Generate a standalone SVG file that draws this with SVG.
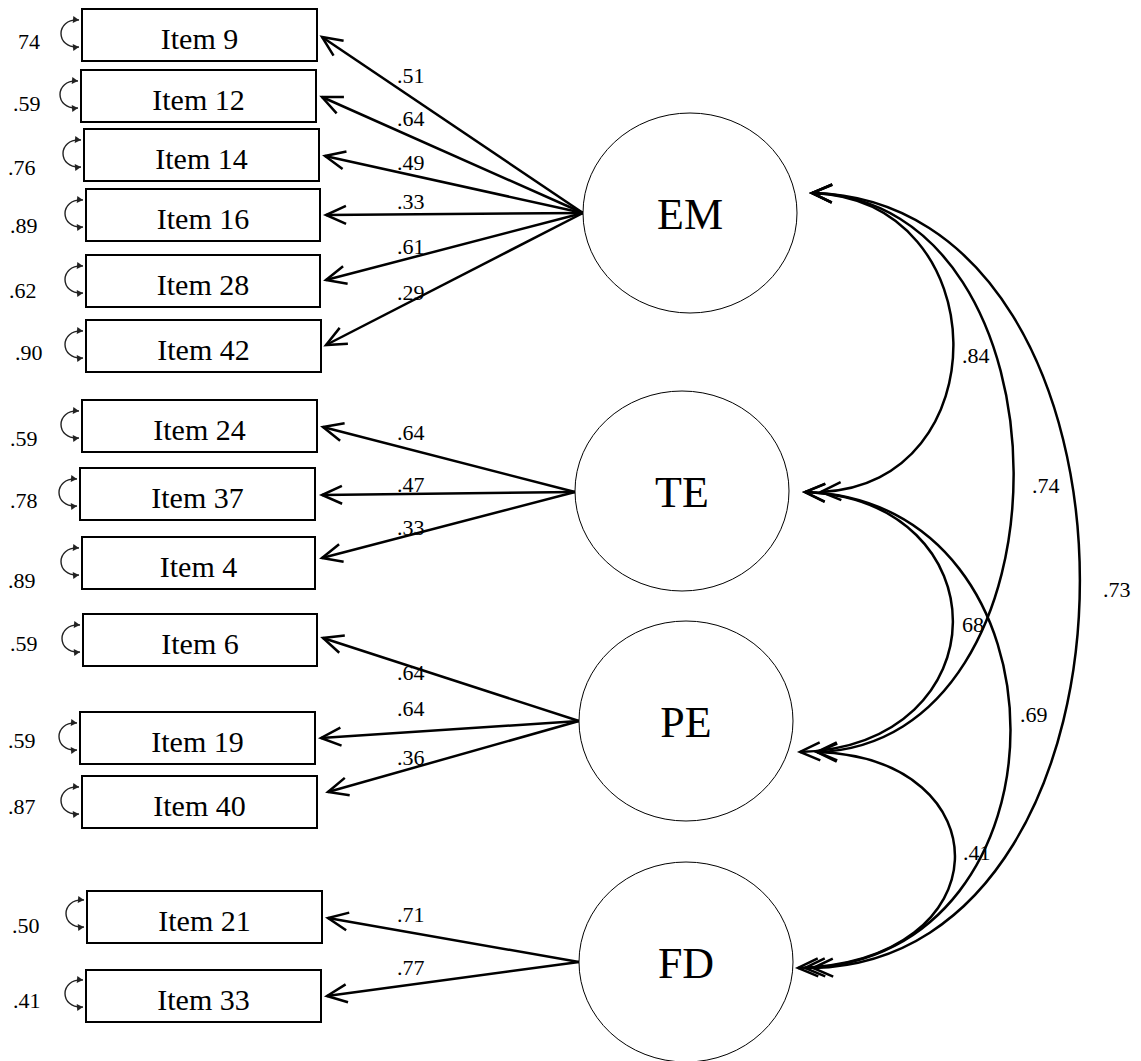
<svg xmlns="http://www.w3.org/2000/svg" width="1141" height="1061" viewBox="0 0 1141 1061" font-family="'Liberation Serif', 'Times New Roman', serif">
<style>
.box{fill:#fff;stroke:#000;stroke-width:2}
.lat{fill:#fff;stroke:#000;stroke-width:1}
.it{font-family:'Liberation Serif','Times New Roman',serif;font-size:30px;text-anchor:middle;fill:#000}
.lt{font-family:'Liberation Serif','Times New Roman',serif;font-size:44px;text-anchor:middle;fill:#000}
.n{font-family:'Liberation Serif','Times New Roman',serif;font-size:22px;fill:#000}
.ld{fill:none;stroke:#000;stroke-width:2.5;marker-end:url(#ah)}
.cv{fill:none;stroke:#000;stroke-width:2.5;marker-start:url(#ah);marker-end:url(#ah)}
.er{fill:none;stroke:#222;stroke-width:1.4;marker-start:url(#sm);marker-end:url(#sm)}
</style>
<defs>
<marker id="ah" markerUnits="userSpaceOnUse" orient="auto-start-reverse" overflow="visible" markerWidth="1" markerHeight="1" refX="0" refY="0">
<path d="M -20,-9 L 0,0 L -20,9" fill="none" stroke="#000" stroke-width="2.5"/>
</marker>
<marker id="sm" markerUnits="userSpaceOnUse" orient="auto-start-reverse" overflow="visible" markerWidth="1" markerHeight="1" refX="0" refY="0">
<path d="M -6,-3.5 L 0,0 L -6,3.5 z" fill="#222" stroke="none"/>
</marker>
<path id="err" d="M 0,0 C -24,-2 -24,29 0,27"/>
</defs>
<g id="connectors">
<line class="ld" x1="583" y1="213" x2="322" y2="37"/>
<line class="ld" x1="583" y1="213" x2="322" y2="97"/>
<line class="ld" x1="583" y1="213" x2="325" y2="156"/>
<line class="ld" x1="583" y1="213" x2="326" y2="215"/>
<line class="ld" x1="583" y1="213" x2="326" y2="280"/>
<line class="ld" x1="583" y1="213" x2="326" y2="345"/>
<line class="ld" x1="575" y1="492" x2="323" y2="427"/>
<line class="ld" x1="575" y1="492" x2="322" y2="495"/>
<line class="ld" x1="575" y1="492" x2="322" y2="558"/>
<line class="ld" x1="579" y1="721" x2="323" y2="638"/>
<line class="ld" x1="579" y1="721" x2="321" y2="738"/>
<line class="ld" x1="579" y1="721" x2="328" y2="792"/>
<line class="ld" x1="579" y1="962" x2="328" y2="918"/>
<line class="ld" x1="579" y1="962" x2="327" y2="996"/>
<path class="cv" d="M 812,193 C 999,200 999,485 821,492"/>
<path class="cv" d="M 812,193 C 1080,200 1080,745 817,752"/>
<path class="cv" d="M 812,193 C 1169,200 1169,960 813,968"/>
<path class="cv" d="M 805,492 C 1003,500 1003,745 800,752"/>
<path class="cv" d="M 805,492 C 1079,500 1079,960 805,968"/>
<path class="cv" d="M 817,752 C 1004,758 1004,962 798,968"/>
<use href="#err" class="er" x="79" y="20"/>
<use href="#err" class="er" x="78" y="81"/>
<use href="#err" class="er" x="81" y="140"/>
<use href="#err" class="er" x="83" y="200"/>
<use href="#err" class="er" x="83" y="266"/>
<use href="#err" class="er" x="83" y="331"/>
<use href="#err" class="er" x="79" y="411"/>
<use href="#err" class="er" x="77" y="479"/>
<use href="#err" class="er" x="79" y="548"/>
<use href="#err" class="er" x="80" y="625"/>
<use href="#err" class="er" x="77" y="723"/>
<use href="#err" class="er" x="79" y="787"/>
<use href="#err" class="er" x="84" y="900"/>
<use href="#err" class="er" x="83" y="980"/>
</g>
<g id="labels">
<text class="n" x="397" y="83">.51</text>
<text class="n" x="397" y="126">.64</text>
<text class="n" x="397" y="170">.49</text>
<text class="n" x="397" y="209">.33</text>
<text class="n" x="397" y="254">.61</text>
<text class="n" x="397" y="300">.29</text>
<text class="n" x="397" y="440">.64</text>
<text class="n" x="397" y="492">.47</text>
<text class="n" x="397" y="535">.33</text>
<text class="n" x="397" y="680">.64</text>
<text class="n" x="397" y="716">.64</text>
<text class="n" x="397" y="765">.36</text>
<text class="n" x="397" y="922">.71</text>
<text class="n" x="397" y="975">.77</text>
<text class="n" x="962" y="363">.84</text>
<text class="n" x="962" y="632">68</text>
<text class="n" x="1032" y="493">.74</text>
<text class="n" x="1103" y="597">.73</text>
<text class="n" x="1020" y="722">.69</text>
<text class="n" x="963" y="860">.41</text>
<text class="n" x="18" y="49">74</text>
<text class="n" x="13" y="111">.59</text>
<text class="n" x="8" y="175">.76</text>
<text class="n" x="10" y="233">.89</text>
<text class="n" x="9" y="298">.62</text>
<text class="n" x="15" y="360">.90</text>
<text class="n" x="10" y="446">.59</text>
<text class="n" x="10" y="508">.78</text>
<text class="n" x="8" y="588">.89</text>
<text class="n" x="10" y="651">.59</text>
<text class="n" x="8" y="748">.59</text>
<text class="n" x="8" y="814">.87</text>
<text class="n" x="12" y="933">.50</text>
<text class="n" x="13" y="1008">.41</text>
</g>
<g id="item9"><rect class="box" x="82" y="9" width="235" height="52"/><text class="it" x="199.5" y="49">Item 9</text></g>
<g id="item12"><rect class="box" x="81" y="70" width="235" height="52"/><text class="it" x="198.5" y="110">Item 12</text></g>
<g id="item14"><rect class="box" x="84" y="129" width="235" height="52"/><text class="it" x="201.5" y="169">Item 14</text></g>
<g id="item16"><rect class="box" x="86" y="189" width="234" height="52"/><text class="it" x="203" y="229">Item 16</text></g>
<g id="item28"><rect class="box" x="86" y="255" width="234" height="52"/><text class="it" x="203" y="295">Item 28</text></g>
<g id="item42"><rect class="box" x="86" y="320" width="235" height="52"/><text class="it" x="203.5" y="360">Item 42</text></g>
<g id="item24"><rect class="box" x="82" y="400" width="235" height="52"/><text class="it" x="199.5" y="440">Item 24</text></g>
<g id="item37"><rect class="box" x="80" y="468" width="235" height="52"/><text class="it" x="197.5" y="508">Item 37</text></g>
<g id="item4"><rect class="box" x="82" y="537" width="233" height="52"/><text class="it" x="198.5" y="577">Item 4</text></g>
<g id="item6"><rect class="box" x="83" y="614" width="234" height="52"/><text class="it" x="200" y="654">Item 6</text></g>
<g id="item19"><rect class="box" x="80" y="712" width="235" height="52"/><text class="it" x="197.5" y="752">Item 19</text></g>
<g id="item40"><rect class="box" x="82" y="776" width="235" height="52"/><text class="it" x="199.5" y="816">Item 40</text></g>
<g id="item21"><rect class="box" x="87" y="891" width="235" height="52"/><text class="it" x="204.5" y="931">Item 21</text></g>
<g id="item33"><rect class="box" x="86" y="970" width="235" height="52"/><text class="it" x="203.5" y="1010">Item 33</text></g>
<g id="EM"><ellipse class="lat" cx="690" cy="213" rx="107" ry="100"/><text class="lt" x="690" y="229">EM</text></g>
<g id="TE"><ellipse class="lat" cx="682" cy="491" rx="107" ry="100"/><text class="lt" x="682" y="507">TE</text></g>
<g id="PE"><ellipse class="lat" cx="686" cy="721" rx="107" ry="100"/><text class="lt" x="686" y="737">PE</text></g>
<g id="FD"><ellipse class="lat" cx="686" cy="962" rx="107" ry="100"/><text class="lt" x="686" y="978">FD</text></g>
</svg>
